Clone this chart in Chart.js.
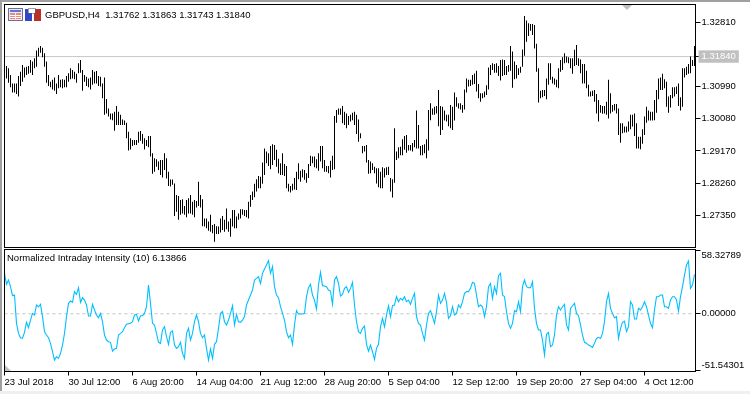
<!DOCTYPE html>
<html>
<head>
<meta charset="utf-8">
<title>GBPUSD,H4</title>
<script src="https://cdn.jsdelivr.net/npm/chart.js@4/dist/chart.umd.min.js"></script>
<style>
  html, body { margin: 0; padding: 0; background: #fff; }
  #page { position: relative; width: 750px; height: 394px; overflow: hidden; background: #fff; font: 9.5px "Liberation Sans", sans-serif; color: #000; }
  #page canvas { position: absolute; left: 0; }
  #priceChart { top: 0; }
  #indicatorChart { top: 248px; }
  .edge { position: absolute; }
  .txt { position: absolute; white-space: pre; line-height: 12px; }
  svg { position: absolute; }
</style>
</head>
<body>
<div id="page">
  <canvas id="priceChart" width="750" height="248"></canvas>
  <canvas id="indicatorChart" width="750" height="146"></canvas>
  <div class="edge" style="left:0;top:0;width:2px;height:391px;background:#a0a0a0"></div>
  <div class="edge" style="left:0;top:0;width:750px;height:2px;background:#a0a0a0"></div>
  <div class="edge" style="left:0;top:391px;width:750px;height:3px;background:#f0f0f0"></div>
  <svg style="left:8px;top:8px" width="33" height="14" shape-rendering="crispEdges">
    <rect x="0.5" y="0.5" width="14" height="12" fill="#e8e8f8" stroke="#70708c"/>
    <rect x="2" y="2" width="11" height="2" fill="#5a78d8"/>
    <rect x="2" y="5" width="5" height="6" fill="#f08878"/>
    <rect x="8" y="5" width="5" height="6" fill="#f08878"/>
    <rect x="2" y="7" width="11" height="1" fill="#fff"/>
    <rect x="2" y="9" width="11" height="1" fill="#fff"/>
    <rect x="17" y="1" width="7" height="12" fill="#3048c8"/>
    <rect x="26" y="1" width="7" height="12" fill="#b83028"/>
    <rect x="20" y="0" width="7" height="5" fill="#fff" stroke="#606060" stroke-width="0.6"/>
  </svg>
  <svg style="left:622px;top:5px" width="11" height="6"><path d="M0 0H10L5 5Z" fill="#c0c0c0"/></svg>
  <svg style="left:5px;top:365px" width="7" height="6"><path d="M0 0L6 6H0Z" fill="#c0c0c0"/></svg>
  <div class="txt" style="left:45px;top:9px">GBPUSD,H4  1.31762 1.31863 1.31743 1.31840</div>
  <div class="txt" style="left:7px;top:252px">Normalized Intraday Intensity (10) 6.13866</div>
</div>
<script>
// H4 bars, oldest first
const highs = [
  1.3157,1.3151,1.3132,1.3108,1.3108,1.3108,1.3129,1.3141,1.3160,1.3153,
  1.3155,1.3157,1.3174,1.3170,1.3179,1.3201,1.3209,1.3214,1.3209,1.3193,
  1.3170,1.3132,1.3113,1.3118,1.3125,1.3108,1.3132,1.3118,1.3120,1.3118,
  1.3129,1.3137,1.3151,1.3146,1.3141,1.3135,1.3165,1.3174,1.3146,1.3132,
  1.3127,1.3122,1.3125,1.3146,1.3141,1.3143,1.3129,1.3127,1.3108,1.3125,
  1.3064,1.3037,1.3023,1.3023,1.3028,1.3044,1.3028,1.3019,1.3006,1.3003,
  1.2997,1.2971,1.2953,1.2948,1.2948,1.2948,1.2971,1.2973,1.2965,1.2953,
  1.2948,1.2959,1.2959,1.2910,1.2896,1.2893,1.2887,1.2891,1.2891,1.2910,
  1.2896,1.2858,1.2836,1.2836,1.2825,1.2792,1.2789,1.2778,1.2780,1.2761,
  1.2778,1.2783,1.2792,1.2773,1.2778,1.2775,1.2830,1.2792,1.2780,1.2726,
  1.2726,1.2717,1.2736,1.2707,1.2710,1.2704,1.2703,1.2726,1.2733,1.2722,
  1.2754,1.2717,1.2726,1.2750,1.2750,1.2731,1.2740,1.2752,1.2752,1.2750,
  1.2750,1.2773,1.2792,1.2802,1.2824,1.2837,1.2846,1.2844,1.2884,1.2924,
  1.2915,1.2910,1.2931,1.2936,1.2934,1.2920,1.2895,1.2882,1.2910,1.2880,
  1.2874,1.2824,1.2818,1.2824,1.2840,1.2858,1.2882,1.2861,1.2865,1.2863,
  1.2854,1.2880,1.2903,1.2901,1.2901,1.2893,1.2910,1.2931,1.2931,1.2891,
  1.2874,1.2874,1.2889,1.2903,1.3016,1.3033,1.3037,1.3037,1.3044,1.3028,
  1.3023,1.3016,1.3019,1.3025,1.3028,1.3019,1.3006,1.2967,1.2931,1.2931,
  1.2934,1.2891,1.2887,1.2882,1.2872,1.2868,1.2868,1.2858,1.2871,1.2868,
  1.2871,1.2872,1.2840,1.2837,1.2981,1.2915,1.2927,1.2929,1.2950,1.2959,
  1.2962,1.2934,1.2934,1.2939,1.2948,1.3031,1.2990,1.2931,1.2934,1.2936,
  1.2950,1.3033,1.3052,1.3037,1.3042,1.3044,1.3089,1.3044,1.3042,1.3031,
  1.3019,1.3019,1.3047,1.3042,1.3082,1.3069,1.3052,1.3052,1.3047,1.3091,
  1.3122,1.3118,1.3118,1.3132,1.3136,1.3144,1.3106,1.3080,1.3080,1.3085,
  1.3103,1.3153,1.3160,1.3165,1.3163,1.3165,1.3157,1.3174,1.3176,1.3174,
  1.3157,1.3160,1.3214,1.3198,1.3170,1.3160,1.3151,1.3155,1.3204,1.3299,
  1.3286,1.3278,1.3276,1.3276,1.3273,1.3220,1.3151,1.3087,1.3089,1.3089,
  1.3122,1.3165,1.3165,1.3127,1.3122,1.3118,1.3151,1.3174,1.3182,1.3193,
  1.3184,1.3182,1.3179,1.3179,1.3203,1.3217,1.3179,1.3176,1.3163,1.3163,
  1.3144,1.3104,1.3085,1.3087,1.3089,1.3078,1.3061,1.3047,1.3044,1.3044,
  1.3056,1.3118,1.3080,1.3047,1.3050,1.3050,1.3037,1.2995,1.2995,1.2986,
  1.2986,1.3000,1.3019,1.3019,1.3023,1.2995,1.2957,1.2957,1.2978,1.3014,
  1.3042,1.3031,1.3028,1.3028,1.3061,1.3089,1.3122,1.3125,1.3135,1.3120,
  1.3113,1.3071,1.3075,1.3097,1.3097,1.3099,1.3108,1.3069,1.3151,1.3151,
  1.3155,1.3163,1.3184,1.3174,1.3214
];
const lows = [
  1.3122,1.3110,1.3097,1.3082,1.3082,1.3078,1.3071,1.3101,1.3113,1.3125,
  1.3132,1.3135,1.3138,1.3132,1.3151,1.3155,1.3184,1.3195,1.3182,1.3155,
  1.3110,1.3101,1.3097,1.3091,1.3087,1.3078,1.3094,1.3097,1.3094,1.3097,
  1.3097,1.3113,1.3120,1.3122,1.3120,1.3110,1.3137,1.3138,1.3087,1.3113,
  1.3101,1.3097,1.3091,1.3104,1.3108,1.3108,1.3101,1.3099,1.3066,1.3019,
  1.3023,1.3014,1.3006,1.3004,1.2974,1.2990,1.2990,1.2990,1.2990,1.2990,
  1.2953,1.2918,1.2921,1.2931,1.2934,1.2934,1.2940,1.2946,1.2937,1.2921,
  1.2931,1.2927,1.2901,1.2852,1.2858,1.2872,1.2863,1.2849,1.2842,1.2863,
  1.2839,1.2818,1.2816,1.2821,1.2733,1.2745,1.2722,1.2736,1.2740,1.2736,
  1.2729,1.2740,1.2740,1.2736,1.2729,1.2757,1.2761,1.2757,1.2704,1.2703,
  1.2698,1.2691,1.2688,1.2684,1.2660,1.2682,1.2682,1.2686,1.2693,1.2688,
  1.2695,1.2688,1.2674,1.2703,1.2698,1.2698,1.2722,1.2726,1.2736,1.2733,
  1.2729,1.2726,1.2759,1.2778,1.2786,1.2802,1.2811,1.2811,1.2824,1.2849,
  1.2882,1.2874,1.2865,1.2877,1.2891,1.2872,1.2854,1.2849,1.2849,1.2846,
  1.2811,1.2802,1.2799,1.2805,1.2808,1.2806,1.2837,1.2830,1.2842,1.2835,
  1.2827,1.2840,1.2874,1.2882,1.2871,1.2868,1.2861,1.2887,1.2868,1.2858,
  1.2858,1.2854,1.2842,1.2863,1.2865,1.2997,1.3019,1.3019,1.2995,1.2990,
  1.2981,1.2990,1.3000,1.3004,1.2990,1.2965,1.2943,1.2953,1.2910,1.2915,
  1.2884,1.2852,1.2854,1.2863,1.2854,1.2825,1.2814,1.2811,1.2811,1.2842,
  1.2849,1.2849,1.2802,1.2785,1.2827,1.2891,1.2896,1.2905,1.2905,1.2920,
  1.2912,1.2918,1.2918,1.2915,1.2927,1.2924,1.2924,1.2905,1.2905,1.2910,
  1.2896,1.2918,1.3004,1.3019,1.3019,1.3023,1.2987,1.2962,1.2976,1.3003,
  1.3000,1.2987,1.2981,1.2976,1.3003,1.3042,1.3037,1.3034,1.3025,1.3034,
  1.3082,1.3099,1.3101,1.3104,1.3106,1.3085,1.3066,1.3056,1.3066,1.3069,
  1.3075,1.3091,1.3132,1.3146,1.3138,1.3138,1.3129,1.3116,1.3129,1.3132,
  1.3132,1.3141,1.3144,1.3096,1.3120,1.3122,1.3132,1.3138,1.3155,1.3186,
  1.3226,1.3242,1.3257,1.3245,1.3207,1.3141,1.3054,1.3066,1.3069,1.3072,
  1.3063,1.3104,1.3118,1.3108,1.3104,1.3097,1.3094,1.3141,1.3146,1.3165,
  1.3167,1.3165,1.3151,1.3135,1.3157,1.3160,1.3157,1.3137,1.3108,1.3108,
  1.3094,1.3071,1.3071,1.3072,1.3056,1.3023,1.3000,1.3025,1.3022,1.3023,
  1.3019,1.3009,1.3023,1.3028,1.3031,1.3023,1.2962,1.2940,1.2967,1.2969,
  1.2969,1.2972,1.2978,1.2986,1.2959,1.2924,1.2924,1.2922,1.2937,1.2962,
  1.2997,1.3003,1.3003,1.3003,1.3004,1.3025,1.3063,1.3089,1.3089,1.3094,
  1.3042,1.3025,1.3040,1.3066,1.3071,1.3078,1.3044,1.3031,1.3042,1.3125,
  1.3132,1.3135,1.3137,1.3157,1.3157
];
const lastPrice = 1.3184;
const priceTicks = [1.3281, 1.3184, 1.3099, 1.3008, 1.2917, 1.2826, 1.2735];

// Normalized Intraday Intensity (10), one value per slot including the first one on the frame
const intensity = [
  37.0,26.9,30.9,24.8,16.5,17.1,-8.8,-18.0,-22.0,-22.6,
  -17.1,-7.9,-12.8,-5.8,0.3,-1.2,8.0,6.4,8.6,-2.7,
  -16.4,-19.5,-22.0,-27.1,-34.8,-42.4,-39.3,-40.9,-36.3,-28.7,
  -18.0,-2.7,9.5,11.6,10.4,20.2,17.7,23.8,10.4,14.7,
  12.5,8.0,-2.1,-2.1,8.6,3.4,-1.2,-3.6,0.3,-7.3,
  -19.5,-24.1,-25.6,-26.2,-34.2,-32.3,-31.7,-19.5,-18.0,-16.4,
  -12.8,-9.7,-9.1,-8.8,-7.3,-1.2,-0.6,-6.7,-1.8,-1.8,
  0.3,6.4,26.3,9.5,-8.8,-10.3,-18.0,-26.2,-27.1,-14.9,
  -11.9,-21.0,-28.0,-17.1,-15.8,-28.7,-31.7,-30.2,-26.2,-36.3,
  -40.9,-18.0,-13.4,-24.1,-18.0,-7.3,-1.2,-7.3,-18.0,-22.0,
  -19.5,-31.7,-42.4,-32.3,-40.9,-28.0,-25.6,-13.4,0.3,1.9,
  -7.3,-10.3,-5.8,0.3,7.3,-10.3,-0.6,-7.3,-7.9,-5.8,
  -2.7,8.0,12.5,
  17.1,21.7,30.9,32.4,33.9,27.8,37.0,40.9,44.6,48.6,
  37.0,43.1,24.8,17.1,14.7,6.4,0.3,-5.8,-16.4,-22.0,
  -19.5,-28.0,-10.3,2.8,-0.3,-0.3,-0.3,0.3,15.6,23.8,
  26.9,17.1,12.5,4.3,26.3,37.9,25.7,25.4,24.8,21.7,
  20.8,8.6,30.9,33.9,27.8,16.2,17.7,23.2,24.8,19.6,
  23.2,28.7,8.0,-7.3,-16.4,-18.0,-13.4,-11.3,-28.0,-34.2,
  -28.7,-34.8,-41.8,-31.7,-28.0,-11.9,-4.2,-11.9,-1.2,7.3,
  -2.7,7.3,8.0,15.6,11.0,14.1,12.5,15.6,11.0,12.5,
  8.6,14.1,18.6,-2.7,-8.8,-10.3,-18.0,-24.1,-10.3,0.3,
  2.8,-2.7,-8.8,1.9,17.1,9.5,12.5,18.6,10.4,-4.2,
  -1.8,6.4,-1.2,0.3,8.0,5.5,11.0,18.6,20.2,20.2,
  23.2,28.7,27.8,17.1,6.4,8.0,6.4,-2.7,6.4,24.8,
  27.8,14.1,24.8,18.6,34.8,
  37.0,17.1,15.6,1.9,-8.8,-13.4,-8.8,2.8,1.9,11.0,
  1.9,24.8,30.9,24.8,23.8,23.8,29.3,4.9,-8.8,-14.9,
  -14.9,-24.1,-37.8,-18.9,-17.1,-30.2,-28.7,-19.5,-1.2,6.4,
  3.4,6.4,8.6,-10.3,-14.9,4.9,7.3,9.5,0.3,-1.8,
  -10.3,-19.5,-26.2,-27.1,-28.7,-29.6,-30.8,-27.1,-22.6,-21.6,
  -22.6,-18.0,-7.3,11.0,18.6,4.9,0.3,-3.6,-2.7,-22.6,
  -13.4,-7.9,-6.7,-16.4,-11.9,11.0,8.0,-4.9,-4.9,4.9,
  3.4,6.4,11.0,6.4,-1.2,-8.8,-12.8,3.4,15.6,15.6,
  17.1,17.1,6.4,6.4,4.9,12.5,15.6,15.6,12.5,2.5,
  15.6,24.8,35.4,44.6,48.3,23.2,26.3,36.0
];
const indicatorTicks = [58.32789, 0, -51.54301];

// one label every 32 slots
const timeLabels = ['23 Jul 2018', '30 Jul 12:00', '6 Aug 20:00', '14 Aug 04:00', '21 Aug 12:00', '28 Aug 20:00',
  '5 Sep 04:00', '12 Sep 12:00', '19 Sep 20:00', '27 Sep 04:00', '4 Oct 12:00'];
const labelStep = 32;

const categories = [''].concat(highs.map(() => ''));
timeLabels.forEach((t, i) => { categories[i * labelStep] = t; });

const font = { family: '"Liberation Sans", sans-serif', size: 9.5 };
const grey = '#c0c0c0';
const axisWidth = 54.5;

// the layout would otherwise reserve room for half a label above and below the plot
function noLabelPadding(s) {
  s.paddingTop = 0;
  s.paddingBottom = 0;
  s.paddingLeft = 0;
  s.paddingRight = 0;
}

// black frame round the plot, one pixel in from the first slot
const framePlugin = {
  id: 'frame',
  afterDatasetsDraw(chart) {
    const a = chart.chartArea;
    const ctx = chart.ctx;
    ctx.save();
    ctx.strokeStyle = '#000';
    ctx.lineWidth = 1;
    ctx.strokeRect(a.left + 1, a.top, a.right - a.left - 1, a.bottom - a.top);
    ctx.restore();
  }
};

// top and bottom values sit inside the panel, not on their tick
const edgeLabels = {
  id: 'edgeLabels',
  afterDraw(chart) {
    const y = chart.scales.y;
    const ctx = chart.ctx;
    ctx.save();
    ctx.fillStyle = '#000';
    ctx.font = font.size + 'px ' + font.family;
    ctx.textBaseline = 'middle';
    ctx.fillText(indicatorTicks[0].toFixed(5), 701.5, y.getPixelForValue(indicatorTicks[0]) + 5);
    ctx.fillText(indicatorTicks[2].toFixed(5), 701.5, y.getPixelForValue(indicatorTicks[2]) - 5);
    ctx.restore();
  }
};

new Chart(document.getElementById('priceChart'), {
  type: 'bar',
  data: {
    labels: categories,
    datasets: [
      {
        type: 'line',
        data: categories.map(() => lastPrice),
        borderColor: grey,
        borderWidth: 1,
        pointRadius: 0,
        order: 2
      },
      {
        data: [null].concat(highs.map((h, i) => [lows[i], h])),
        backgroundColor: '#000',
        borderWidth: 0,
        barThickness: 1,
        inflateAmount: 0,
        order: 1
      }
    ]
  },
  options: {
    responsive: false,
    animation: false,
    layout: { padding: { left: 3.5, top: 4.5, bottom: 0.5, right: 0 } },
    plugins: { legend: { display: false }, tooltip: { enabled: false } },
    scales: {
      x: { display: false, offset: true },
      y: {
        position: 'right',
        min: 1.26436,
        max: 1.33313,
        afterBuildTicks: (s) => { s.ticks = priceTicks.map((value) => ({ value })); },
        afterFit: (s) => { s.width = axisWidth; noLabelPadding(s); },
        grid: { drawOnChartArea: false, tickLength: 5, tickColor: '#000' },
        border: { color: '#000' },
        ticks: {
          autoSkip: false,
          padding: 1,
          font,
          color: (c) => (c.tick.value === lastPrice ? '#fff' : '#000'),
          showLabelBackdrop: (c) => c.tick.value === lastPrice,
          backdropColor: grey,
          backdropPadding: { x: 3, y: 0.5 },
          callback: (v) => v.toFixed(5)
        }
      }
    }
  },
  plugins: [framePlugin]
});

new Chart(document.getElementById('indicatorChart'), {
  type: 'line',
  data: {
    labels: categories,
    datasets: [
      {
        data: categories.map(() => 0),
        borderColor: grey,
        borderWidth: 1,
        borderDash: [3, 3],
        pointRadius: 0,
        order: 2
      },
      {
        data: intensity,
        borderColor: '#00bfff',
        borderWidth: 1.1,
        pointRadius: 0,
        tension: 0,
        order: 1
      }
    ]
  },
  options: {
    responsive: false,
    animation: false,
    layout: { padding: { left: 3.5, top: 1.5, bottom: 0, right: 0 } },
    plugins: { legend: { display: false }, tooltip: { enabled: false } },
    scales: {
      x: {
        offset: true,
        afterBuildTicks: (s) => { s.ticks = timeLabels.map((t, i) => ({ value: i * labelStep })); },
        afterFit: (s) => { s.height = 22.5; noLabelPadding(s); },
        grid: { drawOnChartArea: false, tickLength: 4, tickColor: '#000' },
        border: { display: false },
        ticks: { autoSkip: false, maxRotation: 0, minRotation: 0, align: 'start', padding: 1, font, color: '#000' }
      },
      y: {
        position: 'right',
        min: -52.9,
        max: 58.8,
        afterBuildTicks: (s) => { s.ticks = indicatorTicks.map((value) => ({ value })); },
        afterFit: (s) => { s.width = axisWidth; noLabelPadding(s); },
        grid: { drawOnChartArea: false, tickLength: 5, tickColor: '#000' },
        border: { color: '#000' },
        ticks: {
          autoSkip: false,
          padding: 1,
          font,
          color: '#000',
          callback: (v) => (v === 0 ? v.toFixed(5) : '')
        }
      }
    }
  },
  plugins: [framePlugin, edgeLabels]
});
</script>
</body>
</html>
